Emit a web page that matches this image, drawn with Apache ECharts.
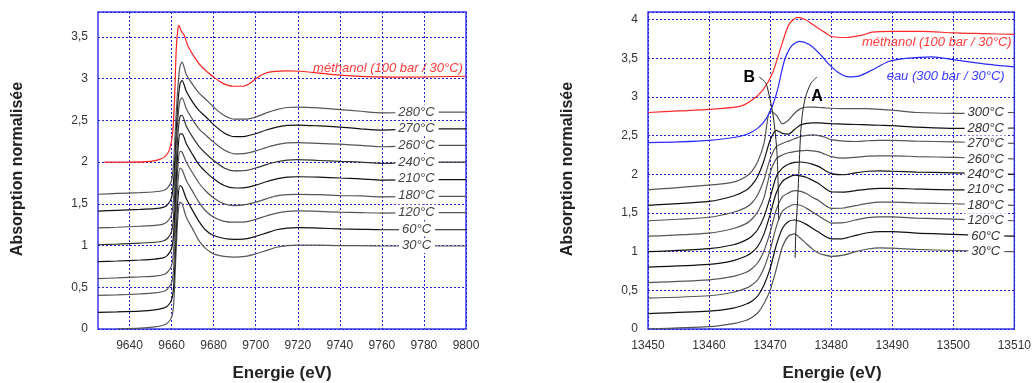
<!DOCTYPE html>
<html><head><meta charset="utf-8">
<script src="https://cdn.jsdelivr.net/npm/echarts@6/dist/echarts.min.js"></script>
<style>html,body{margin:0;padding:0;background:#fff}#c{width:1034px;height:383px}</style>
</head><body><div id="c"></div>
<script>
// ---------- Left panel ----------
const XL = [9625, 9634, 9645, 9652, 9656, 9658, 9660, 9661, 9662, 9663, 9664, 9665, 9667, 9670, 9673, 9676, 9680, 9685, 9690, 9695, 9700, 9705, 9710, 9715, 9720, 9730, 9740, 9750, 9760, 9780, 9800];
const yL_30  = [null, 0, 0.01, 0.025, 0.045, 0.07, 0.14, 0.3, 0.85, 1.35, 1.52, 1.5, 1.34, 1.2, 1.06, 0.97, 0.9, 0.87, 0.862, 0.87, 0.9, 0.94, 0.98, 1.0, 1.005, 1.005, 1.0, 1.0, 0.995, 0.995, 0.995];
const yL_60  = [0.2, 0.205, 0.215, 0.23, 0.25, 0.275, 0.35, 0.52, 1.06, 1.56, 1.72, 1.7, 1.56, 1.42, 1.29, 1.19, 1.12, 1.085, 1.075, 1.08, 1.11, 1.15, 1.19, 1.21, 1.215, 1.21, 1.2, 1.195, 1.19, 1.19, 1.19];
const yL_120 = [0.403, 0.408, 0.42, 0.432, 0.45, 0.478, 0.555, 0.73, 1.27, 1.75, 1.93, 1.91, 1.78, 1.65, 1.52, 1.42, 1.34, 1.29, 1.28, 1.285, 1.315, 1.355, 1.39, 1.41, 1.415, 1.41, 1.4, 1.395, 1.39, 1.395, 1.395];
const yL_180 = [0.605, 0.612, 0.625, 0.635, 0.65, 0.68, 0.76, 0.95, 1.48, 1.95, 2.13, 2.12, 2.0, 1.87, 1.75, 1.66, 1.57, 1.5, 1.48, 1.49, 1.52, 1.56, 1.595, 1.61, 1.615, 1.61, 1.6, 1.595, 1.585, 1.59, 1.59];
const yL_210 = [0.808, 0.815, 0.827, 0.838, 0.852, 0.882, 0.965, 1.16, 1.68, 2.14, 2.34, 2.34, 2.22, 2.09, 1.97, 1.89, 1.8, 1.72, 1.69, 1.695, 1.725, 1.765, 1.8, 1.82, 1.825, 1.82, 1.81, 1.8, 1.785, 1.79, 1.79];
const yL_240 = [1.01, 1.018, 1.03, 1.04, 1.055, 1.085, 1.17, 1.37, 1.89, 2.33, 2.55, 2.56, 2.43, 2.3, 2.19, 2.11, 2.02, 1.93, 1.895, 1.9, 1.93, 1.97, 2.005, 2.025, 2.03, 2.02, 2.01, 2.0, 1.985, 2.0, 2.0];
const yL_260 = [1.212, 1.22, 1.232, 1.242, 1.257, 1.287, 1.375, 1.58, 2.09, 2.52, 2.74, 2.77, 2.64, 2.51, 2.4, 2.33, 2.24, 2.145, 2.1, 2.105, 2.135, 2.175, 2.21, 2.23, 2.235, 2.225, 2.215, 2.2, 2.185, 2.2, 2.2];
const yL_270 = [1.413, 1.422, 1.433, 1.443, 1.458, 1.488, 1.578, 1.79, 2.3, 2.71, 2.94, 2.98, 2.85, 2.72, 2.62, 2.55, 2.45, 2.35, 2.305, 2.31, 2.34, 2.385, 2.42, 2.44, 2.445, 2.435, 2.42, 2.4, 2.385, 2.4, 2.4];
const yL_280 = [1.615, 1.625, 1.635, 1.645, 1.66, 1.69, 1.78, 2.0, 2.5, 2.9, 3.15, 3.2, 3.05, 2.93, 2.83, 2.76, 2.66, 2.56, 2.515, 2.515, 2.54, 2.59, 2.63, 2.655, 2.66, 2.65, 2.63, 2.61, 2.59, 2.6, 2.6];
const XL_meoh = [9628, 9640, 9650, 9654, 9657, 9659, 9660.5, 9661.4, 9662.2, 9663, 9663.5, 9664.6, 9666, 9668, 9673, 9677, 9680, 9684, 9689, 9694, 9697, 9700, 9704, 9708, 9715, 9721, 9737, 9753, 9770, 9800];
const yL_meoh = [2.0, 2.0, 2.01, 2.03, 2.07, 2.15, 2.35, 2.75, 3.35, 3.6, 3.64, 3.57, 3.52, 3.38, 3.18, 3.08, 3.02, 2.95, 2.91, 2.91, 2.94, 3.0, 3.06, 3.085, 3.095, 3.09, 3.05, 3.025, 3.02, 3.03];
const tempL = ['30°C', '60°C', '120°C', '180°C', '210°C', '240°C', '260°C', '270°C', '280°C'];
const tempLY = [1.0, 1.2, 1.4, 1.6, 1.8, 2.0, 2.2, 2.4, 2.6];
const ticksXL = [9640, 9660, 9680, 9700, 9720, 9740, 9760, 9780, 9800];

// ---------- Right panel ----------
const XR = [13450, 13460, 13464, 13466, 13467, 13468, 13469, 13470, 13471, 13472, 13473, 13474, 13475, 13476, 13477, 13478, 13479, 13480, 13482, 13484, 13486, 13488, 13490, 13494, 13500, 13505, 13510];
const yR_30  = [0, 0.03, 0.07, 0.11, 0.15, 0.21, 0.33, 0.5, 0.77, 1.06, 1.2, 1.23, 1.17, 1.1, 1.03, 0.98, 0.955, 0.94, 0.955, 1.0, 1.035, 1.05, 1.045, 1.03, 1.015, 1.005, 1.0];
const yR_60  = [0.2, 0.23, 0.27, 0.32, 0.36, 0.43, 0.57, 0.78, 1.08, 1.3, 1.39, 1.41, 1.39, 1.35, 1.3, 1.25, 1.2, 1.165, 1.17, 1.21, 1.245, 1.26, 1.26, 1.24, 1.225, 1.21, 1.2];
const yR_120 = [0.4, 0.43, 0.475, 0.525, 0.57, 0.64, 0.79, 1.02, 1.32, 1.52, 1.58, 1.61, 1.6, 1.56, 1.51, 1.46, 1.41, 1.37, 1.375, 1.41, 1.44, 1.45, 1.45, 1.435, 1.42, 1.41, 1.4];
const yR_180 = [0.6, 0.635, 0.68, 0.73, 0.78, 0.86, 1.01, 1.25, 1.54, 1.71, 1.76, 1.79, 1.78, 1.75, 1.7, 1.66, 1.6, 1.56, 1.565, 1.595, 1.625, 1.64, 1.64, 1.63, 1.62, 1.61, 1.6];
const yR_210 = [0.8, 0.835, 0.885, 0.94, 0.99, 1.07, 1.23, 1.48, 1.76, 1.91, 1.96, 1.99, 1.98, 1.96, 1.92, 1.88, 1.82, 1.775, 1.77, 1.79, 1.81, 1.82, 1.82, 1.81, 1.8, 1.8, 1.8];
const yR_240 = [1.0, 1.04, 1.09, 1.15, 1.2, 1.29, 1.45, 1.7, 1.97, 2.08, 2.13, 2.155, 2.16, 2.15, 2.13, 2.1, 2.05, 2.01, 1.995, 2.02, 2.04, 2.045, 2.04, 2.03, 2.02, 2.01, 2.0];
const yR_260 = [1.2, 1.24, 1.3, 1.36, 1.42, 1.52, 1.7, 2.02, 2.2, 2.25, 2.28, 2.295, 2.305, 2.31, 2.305, 2.29, 2.26, 2.23, 2.21, 2.22, 2.235, 2.24, 2.24, 2.23, 2.22, 2.21, 2.2];
const yR_270 = [1.4, 1.445, 1.51, 1.57, 1.63, 1.74, 1.93, 2.2, 2.36, 2.4, 2.43, 2.46, 2.49, 2.505, 2.51, 2.5, 2.48, 2.45, 2.43, 2.425, 2.435, 2.44, 2.44, 2.43, 2.42, 2.41, 2.4];
const yR_280 = [1.6, 1.65, 1.72, 1.79, 1.86, 1.98, 2.18, 2.44, 2.57, 2.53, 2.52, 2.58, 2.64, 2.66, 2.665, 2.665, 2.66, 2.655, 2.65, 2.645, 2.64, 2.635, 2.63, 2.61, 2.595, 2.595, 2.6];
const yR_300 = [1.8, 1.86, 1.9, 1.97, 2.04, 2.17, 2.4, 2.82, 2.77, 2.655, 2.7, 2.79, 2.85, 2.87, 2.87, 2.865, 2.86, 2.855, 2.85, 2.85, 2.85, 2.84, 2.83, 2.8, 2.79, 2.795, 2.8];
const XR_meoh = [13450, 13455, 13460, 13465, 13467, 13468.8, 13470.4, 13472, 13473.1, 13474.5, 13475.8, 13477.5, 13479.1, 13480.2, 13482.4, 13485.1, 13486.7, 13490, 13495, 13500, 13505, 13510];
const yR_meoh = [2.8, 2.82, 2.84, 2.88, 2.96, 3.09, 3.31, 3.7, 3.94, 4.03, 4.0, 3.91, 3.83, 3.78, 3.77, 3.8, 3.84, 3.85, 3.85, 3.83, 3.82, 3.81];
const XR_eau = [13450, 13455, 13460, 13465, 13467.1, 13468.8, 13470.1, 13471.2, 13472.3, 13473.4, 13474.8, 13476.4, 13478, 13479.7, 13481.3, 13482.9, 13484.5, 13486.7, 13489.4, 13492.2, 13496.5, 13500.3, 13505, 13510];
const yR_eau = [2.41, 2.42, 2.44, 2.49, 2.55, 2.66, 2.83, 3.09, 3.46, 3.65, 3.72, 3.68, 3.57, 3.42, 3.31, 3.26, 3.27, 3.35, 3.46, 3.5, 3.52, 3.48, 3.43, 3.39];
const XA = [13477.7, 13476.7, 13475.8, 13475.3, 13475.0, 13474.75, 13474.5, 13474.2, 13474.1];
const YA = [3.26, 3.18, 3.0, 2.79, 2.53, 2.10, 1.66, 1.23, 0.92];
const XB = [13468.2, 13469.3, 13469.9, 13470.4, 13470.8, 13471.1, 13471.3, 13471.4];
const YB = [3.26, 3.18, 3.0, 2.81, 2.57, 2.31, 1.92, 1.41];
const tempR = ['30°C', '60°C', '120°C', '180°C', '210°C', '240°C', '260°C', '270°C', '280°C', '300°C'];
const tempRY = [1.0, 1.2, 1.4, 1.6, 1.8, 2.0, 2.2, 2.4, 2.6, 2.8];

const FONT = '"Liberation Sans", Arial, sans-serif';
const pairs = (xs, ys) => xs.map((x, i) => [x, ys[i]]);
const GRAY = '#555', BLACK = '#111';

function curve(name, xs, ys, color, gi, width) {
  return { name, type: 'line', xAxisIndex: gi, yAxisIndex: gi, data: pairs(xs, ys),
    showSymbol: false, symbol: 'none', smooth: 0.25, connectNulls: false,
    lineStyle: { color, width: width || 1.2 }, z: 3, silent: true };
}

const colorsL = [GRAY, BLACK, GRAY, GRAY, BLACK, '#333', GRAY, BLACK, GRAY];
const seriesL = [yL_30, yL_60, yL_120, yL_180, yL_210, yL_240, yL_260, yL_270, yL_280];
const colorsR = [GRAY, BLACK, GRAY, GRAY, BLACK, BLACK, GRAY, GRAY, BLACK, GRAY];
const seriesR = [yR_30, yR_60, yR_120, yR_180, yR_210, yR_240, yR_260, yR_270, yR_280, yR_300];

const series = [];
seriesL.forEach((ys, i) => series.push(curve('L' + tempL[i], XL, ys, colorsL[i], 0)));
series.push(curve('L méthanol', XL_meoh, yL_meoh, '#ff2020', 0));
seriesR.forEach((ys, i) => series.push(curve('R' + tempR[i], XR, ys, colorsR[i], 1)));
series.push(curve('R méthanol', XR_meoh, yR_meoh, '#ff2a2a', 1));
series.push(curve('R eau', XR_eau, yR_eau, '#2a2aff', 1));
series.push(curve('A', XA, YA, '#222', 1, 1));
series.push(curve('B', XB, YB, '#222', 1, 1));

const splitStyle = { show: true, lineStyle: { color: '#2020d8', width: 1, type: [2, 2] } };
const labelStyle = { color: '#333', fontSize: 12, fontFamily: FONT };
const commaFmt = v => (Math.abs(v * 2 - Math.round(v * 2)) < 1e-6) ? String(v).replace('.', ',') : '';
const plainFmt = v => String(v);
const gridBase = { show: true, borderColor: '#3a3aee', borderWidth: 1.5, backgroundColor: 'transparent' };
const titleFont = 'bold 16px ' + FONT;

const option = {
  animation: false,
  backgroundColor: '#fff',
  grid: [
    Object.assign({ left: 98, top: 12, width: 368, height: 317 }, gridBase),
    Object.assign({ left: 648, top: 12, width: 368, height: 317 }, gridBase)
  ],
  xAxis: [
    { type: 'value', gridIndex: 0, min: 9625, max: 9800,
      axisLine: { show: false }, axisTick: { show: false, customValues: ticksXL },
      axisLabel: Object.assign({ margin: 11, customValues: ticksXL, formatter: plainFmt, showMinLabel: true, showMaxLabel: true }, labelStyle),
      splitLine: splitStyle },
    { type: 'value', gridIndex: 1, min: 13450, max: 13510, interval: 10,
      axisLine: { show: false }, axisTick: { show: false },
      axisLabel: Object.assign({ margin: 11, formatter: plainFmt, showMinLabel: true, showMaxLabel: true }, labelStyle),
      splitLine: splitStyle }
  ],
  yAxis: [
    { type: 'value', gridIndex: 0, min: 0, max: 3.8, interval: 0.5,
      axisLine: { show: false }, axisTick: { show: false },
      axisLabel: Object.assign({ margin: 10, formatter: commaFmt }, labelStyle),
      splitLine: splitStyle },
    { type: 'value', gridIndex: 1, min: 0, max: 4.1, interval: 0.5,
      axisLine: { show: false }, axisTick: { show: false },
      axisLabel: Object.assign({ margin: 10, formatter: commaFmt }, labelStyle),
      splitLine: splitStyle }
  ],
  series
};
const chart = echarts.init(document.getElementById('c'), null, { renderer: 'canvas' });
chart.setOption(option);

// Text annotations placed through the chart's own coordinate system
const LBL_XL = 9776.7, LBL_XR = 13505.4;
const gfx = [];
function addText(gi, x, y, text, fill, font, bg) {
  const p = chart.convertToPixel({ xAxisIndex: gi, yAxisIndex: gi }, [x, y]);
  const style = { text, fill, font, align: 'center', verticalAlign: 'middle' };
  if (bg) { style.backgroundColor = '#fff'; style.padding = [1, 4, 1, 3]; }
  gfx.push({ type: 'text', x: p[0], y: p[1], z: 100, style });
}
const tempFont = 'italic 13px ' + FONT;
tempL.forEach((t, i) => addText(0, LBL_XL, tempLY[i], t, '#444', tempFont, true));
tempR.forEach((t, i) => addText(1, LBL_XR, tempRY[i], t, '#333', tempFont, true));
addText(0, 9762.9, 3.13, 'méthanol (100 bar / 30°C)', '#ff3a3a', tempFont, false);
addText(1, 13497.3, 3.71, 'méthanol (100 bar / 30°C)', '#ff3a3a', tempFont, false);
addText(1, 13498.75, 3.27, 'eau (300 bar / 30°C)', '#3a3aff', tempFont, false);
addText(1, 13477.7, 3.0, 'A', '#000', 'bold 16px ' + FONT, false);
addText(1, 13466.6, 3.25, 'B', '#000', 'bold 16px ' + FONT, false);
gfx.push(
  { type: 'text', x: 18, y: 169, rotation: Math.PI / 2,
    style: { text: 'Absorption normalisée', fill: '#222', font: titleFont, align: 'center', verticalAlign: 'middle' } },
  { type: 'text', x: 568, y: 169, rotation: Math.PI / 2,
    style: { text: 'Absorption normalisée', fill: '#222', font: titleFont, align: 'center', verticalAlign: 'middle' } },
  { type: 'text', x: 282, y: 373,
    style: { text: 'Energie (eV)', fill: '#222', font: 'bold 17px ' + FONT, align: 'center', verticalAlign: 'middle' } },
  { type: 'text', x: 832, y: 373,
    style: { text: 'Energie (eV)', fill: '#222', font: 'bold 17px ' + FONT, align: 'center', verticalAlign: 'middle' } }
);
chart.setOption({ graphic: gfx });
</script>
</body></html>
